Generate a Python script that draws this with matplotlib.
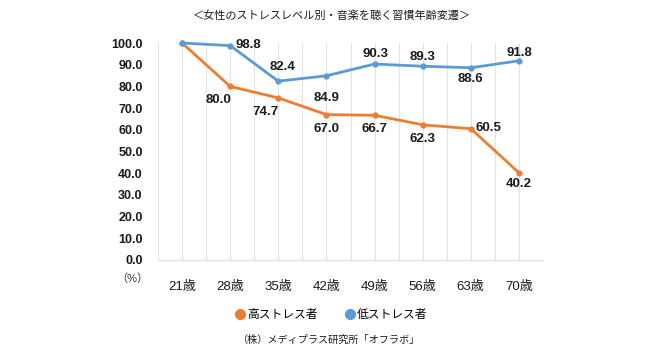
import matplotlib.pyplot as plt
from matplotlib.lines import Line2D

plt.rcParams['font.family'] = ['Liberation Sans', 'Noto Sans CJK JP']

ages = ['21歳', '28歳', '35歳', '42歳', '49歳', '56歳', '63歳', '70歳']
high_stress = [100.0, 80.0, 74.7, 67.0, 66.7, 62.3, 60.5, 40.2]
low_stress = [100.0, 98.8, 82.4, 84.9, 90.3, 89.3, 88.6, 91.8]
yticks = [0, 10, 20, 30, 40, 50, 60, 70, 80, 90, 100]

orange = '#ED7D31'
blue = '#5B9BD5'

# label offsets in pixels (dx, dy), None = no label
high_off = [None, (-12, -14), (-13, -14), (0, -14), (0, -14), (0, -14), (18, 1), (0, -11)]
low_off = [None, (18, 1), (4, 14), (0, -22), (1, 10), (0, 9), (0, -11), (0, 8)]

fig = plt.figure(figsize=(6.5, 3.51), dpi=100)
ax = fig.add_axes([158 / 650, 1 - 260 / 351, (543 - 158) / 650, (260 - 43) / 351])

x = list(range(len(ages)))
ax.plot(x, high_stress, color=orange, lw=2, marker='o', ms=3.5, clip_on=False, zorder=3)
ax.plot(x, low_stress, color=blue, lw=2, marker='o', ms=3.5, clip_on=False, zorder=3)

for vals, offs in ((high_stress, high_off), (low_stress, low_off)):
    for i, (v, o) in enumerate(zip(vals, offs)):
        if o is None:
            continue
        ax.annotate(f'{v:.1f}', (i, v), xytext=(o[0] * 0.72, o[1] * 0.72),
                    textcoords='offset points', ha='center', va='center',
                    fontsize=9.5, fontweight='bold', color='#1a1a1a')

ax.set_xlim(-0.5, len(ages) - 0.5)
ax.set_ylim(0, 100)
ax.set_yticks(yticks)
ax.set_yticklabels([f'{t:.1f}' for t in yticks], fontsize=9, fontweight='bold', color='#1a1a1a')
ax.set_xticks(x)
ax.set_xticklabels(ages, fontsize=9.5, color='#1a1a1a')
ax.tick_params(axis='y', length=0, pad=11)
ax.tick_params(axis='x', length=0, pad=15)

for g in [i - 0.5 for i in range(len(ages) + 1)] + x:
    ax.axvline(g, color='#E3E3E3', lw=0.8, zorder=0)

for s in ['top', 'right', 'left']:
    ax.spines[s].set_visible(False)
ax.spines['bottom'].set_color('#E3E3E3')
ax.spines['bottom'].set_linewidth(1)

fig.text(132 / 650, 1 - 279 / 351, '（%）', ha='center', va='center', fontsize=8, color='#333333')
fig.text(332 / 650, 1 - 15 / 351, '＜女性のストレスレベル別・音楽を聴く習慣年齢変遷＞',
         ha='center', va='center', fontsize=8, color='#1a1a1a')

handles = [Line2D([], [], ls='none', marker='o', ms=7, color=orange),
           Line2D([], [], ls='none', marker='o', ms=7, color=blue)]
fig.legend(handles, ['高ストレス者', '低ストレス者'], loc='center', bbox_to_anchor=(331 / 650, 1 - 315 / 351),
           ncol=2, frameon=False, fontsize=8.5, handletextpad=0.1, columnspacing=2.2, handlelength=1)

fig.text(329 / 650, 1 - 340 / 351, '（株）メディプラス研究所「オフラボ」', ha='center', va='center',
         fontsize=7.3, color='#1a1a1a')

fig.savefig('out.png', dpi=100)
